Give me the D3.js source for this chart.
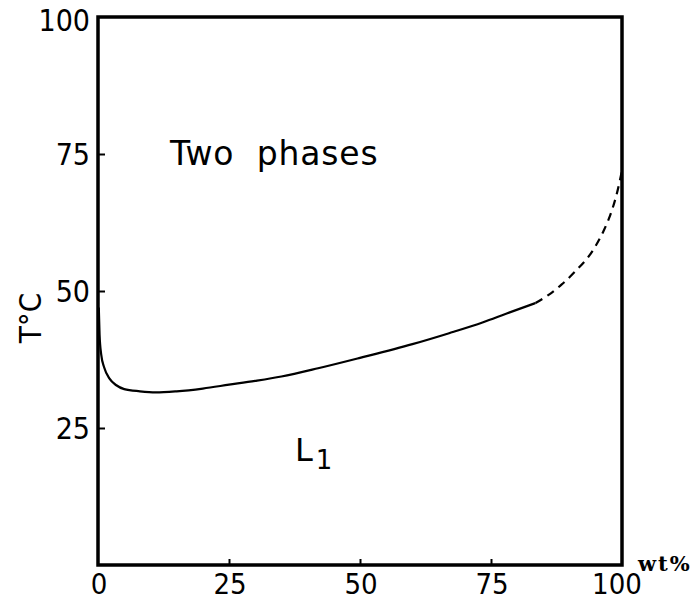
<!DOCTYPE html>
<html>
<head>
<meta charset="utf-8">
<script src="https://cdn.jsdelivr.net/npm/d3@7"></script>
<style>
  html, body { margin: 0; padding: 0; background: #fff; }
  svg { display: block; }
  .num { font-family: "DejaVu Sans Condensed", "Liberation Sans Narrow", "Liberation Sans", sans-serif; font-stretch: condensed; fill: #000; }
</style>
</head>
<body>
<svg id="chart" width="699" height="602"></svg>
<script>
// Miscibility boundary, temperature (°C) against composition (wt%)
const solidBoundary = [
  [0.15, 47], [0.3, 42], [0.6, 38.5], [1.2, 36], [2.2, 34], [3.5, 32.8],
  [5, 32.1], [8, 31.7], [11, 31.5], [15, 31.7], [20, 32.2], [25, 32.9],
  [30, 33.6], [35, 34.4], [42, 35.9], [50, 37.8], [60, 40.3], [67, 42.3],
  [73.5, 44.3], [78, 45.9], [83.5, 47.8]
];
const dashedBoundary = [
  [83.5, 47.8], [86, 49.3], [88.5, 51.2], [91, 53.5], [94.5, 57.5],
  [96.5, 61], [98, 64.5], [99.2, 68.5], [100, 72]
];
const xTicks = [0, 25, 50, 75, 100];
const yTicks = [25, 50, 75, 100];
const xInnerTicks = [25, 50, 75];
const yInnerTicks = [25, 50, 75];

const svg = d3.select("#chart");
const plotLeft = 98, plotRight = 622, plotTop = 17, plotBottom = 565;

const x = d3.scaleLinear().domain([0, 100]).range([plotLeft, plotRight]);
const y = d3.scaleLinear().domain([0, 100]).range([plotBottom, plotTop]);

// Inward tick marks
svg.append("g")
  .attr("transform", `translate(0,${plotBottom})`)
  .call(d3.axisBottom(x).tickValues(xInnerTicks).tickSize(-6).tickFormat(""))
  .call(g => g.select(".domain").remove())
  .call(g => g.selectAll("line").attr("stroke", "#000").attr("stroke-width", 2));
svg.append("g")
  .attr("transform", `translate(${plotLeft},0)`)
  .call(d3.axisLeft(y).tickValues(yInnerTicks).tickSize(-7).tickFormat(""))
  .call(g => g.select(".domain").remove())
  .call(g => g.selectAll("line").attr("stroke", "#000").attr("stroke-width", 2));

// Tick labels
svg.append("g").selectAll("text").data(xTicks).join("text")
  .attr("class", "num")
  .attr("x", d => x(d) + (d === 100 ? -5 : 1))
  .attr("y", 594)
  .attr("text-anchor", "middle")
  .attr("font-size", 29)
  .text(d => d);
svg.append("g").selectAll("text").data(yTicks).join("text")
  .attr("class", "num")
  .attr("x", 90)
  .attr("y", d => y(d) + 11 + (d === 100 ? 3 : 0))
  .attr("text-anchor", "end")
  .attr("font-size", 30)
  .text(d => d);

// Frame
svg.append("rect")
  .attr("x", plotLeft).attr("y", plotTop)
  .attr("width", plotRight - plotLeft).attr("height", plotBottom - plotTop)
  .attr("fill", "none").attr("stroke", "#000").attr("stroke-width", 3.5);

// Boundary curves
const line = d3.line().x(d => x(d[0])).y(d => y(d[1])).curve(d3.curveMonotoneX);
svg.append("path").datum(solidBoundary)
  .attr("d", line).attr("fill", "none").attr("stroke", "#000").attr("stroke-width", 2.2);
svg.append("path").datum(dashedBoundary)
  .attr("d", line).attr("fill", "none").attr("stroke", "#000").attr("stroke-width", 2.2)
  .attr("stroke-dasharray", "8,6");

// Axis titles
svg.append("text")
  .attr("class", "num")
  .attr("transform", "translate(41,318) rotate(-90)")
  .attr("text-anchor", "middle")
  .attr("font-size", 31)
  .text("T°C");
svg.append("text")
  .attr("x", 638).attr("y", 571)
  .attr("font-family", "'DejaVu Serif', 'Liberation Serif', serif")
  .attr("font-weight", "bold")
  .attr("font-size", 21)
  .attr("letter-spacing", 2)
  .text("wt%");

// Region labels
svg.append("text")
  .attr("x", 170).attr("y", 165)
  .attr("font-family", "'DejaVu Sans', sans-serif")
  .attr("font-size", 33)
  .attr("letter-spacing", 0.8)
  .style("white-space", "pre")
  .text("Two  phases");
const l1 = svg.append("text")
  .attr("x", 295).attr("y", 461)
  .attr("font-family", "'DejaVu Sans', sans-serif")
  .attr("font-size", 32);
l1.append("tspan").text("L");
l1.append("tspan").attr("dx", 3).attr("dy", 8).attr("font-size", 26).text("1");
</script>
</body>
</html>
